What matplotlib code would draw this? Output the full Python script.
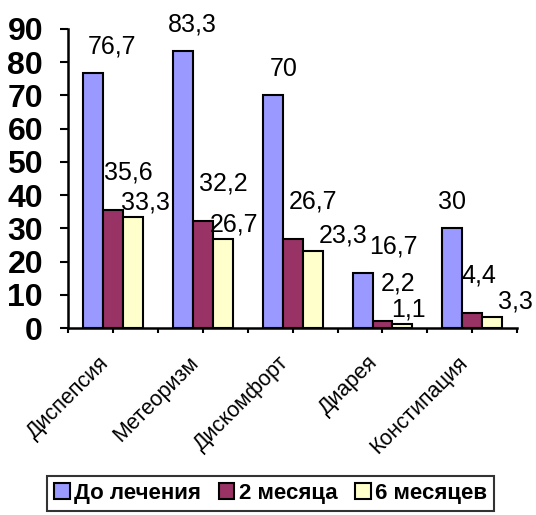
import matplotlib.pyplot as plt
import numpy as np

plt.rcParams['font.family'] = ['Liberation Sans', 'DejaVu Sans']

# Symptom frequency (%) before treatment, after 2 and after 6 months
categories = ["Диспепсия", "Метеоризм", "Дискомфорт", "Диарея", "Констипация"]
series_names = ["До лечения", "2 месяца", "6 месяцев"]
before = [76.7, 83.3, 70, 16.7, 30]
month2 = [35.6, 32.2, 26.7, 2.2, 4.4]
month6 = [33.3, 26.7, 23.3, 1.1, 3.3]

colors = ["#9999FF", "#993366", "#FFFFCC"]
# label shifts in points (dx per bar, dy per series)
label_dx = [[14, 7, 8, 22, 0], [11, 15, 15, 11, 5], [9, 8, 22, 4, 17]]
label_dy = [19, 27, 11]

fig = plt.figure(figsize=(5.36, 5.15), dpi=100)
ax = fig.add_axes([0.127, 0.363, 0.838, 0.581])

x = np.arange(len(categories))
w = 2 / 9
for i, vals in enumerate([before, month2, month6]):
    pos = x + (i - 1) * w
    ax.bar(pos, vals, width=w, color=colors[i], edgecolor="black", linewidth=1.5,
           label=series_names[i], zorder=2)
    for j, (p, v) in enumerate(zip(pos, vals)):
        txt = f"{v:g}".replace(".", ",")
        ax.annotate(txt, (p, v), xytext=(label_dx[i][j], label_dy[i]),
                    textcoords="offset points", ha="center", va="center",
                    fontsize=18, zorder=3)

ax.set_xlim(-0.5, len(categories) - 0.5)
ax.set_ylim(0, 90)
ax.set_yticks(range(0, 91, 10))
ax.tick_params(axis="y", labelsize=23, width=1.5, length=6, pad=12)
for lab in ax.get_yticklabels():
    lab.set_fontweight("bold")

ax.set_xticks(x)
ax.set_xticks(np.arange(-0.5, len(categories), 1), minor=True)
ax.set_xticklabels(categories, rotation=45, ha="right", va="top",
                   fontsize=15.5)
ax.tick_params(axis="x", which="both", width=1.5, length=3.5, pad=14)

for side in ["top", "right"]:
    ax.spines[side].set_visible(False)
for side in ["left", "bottom"]:
    ax.spines[side].set_linewidth(1.8)

leg = fig.legend(loc="lower center", bbox_to_anchor=(0.505, 0.0), ncol=3,
                 frameon=True, fancybox=False, edgecolor="black",
                 prop={"weight": "bold", "size": 16},
                 handlelength=0.7, handleheight=0.7, handletextpad=0.2,
                 columnspacing=0.8, borderpad=0.3, borderaxespad=0.2)
leg.get_frame().set_linewidth(1.5)

fig.savefig("out.png", dpi=100)
